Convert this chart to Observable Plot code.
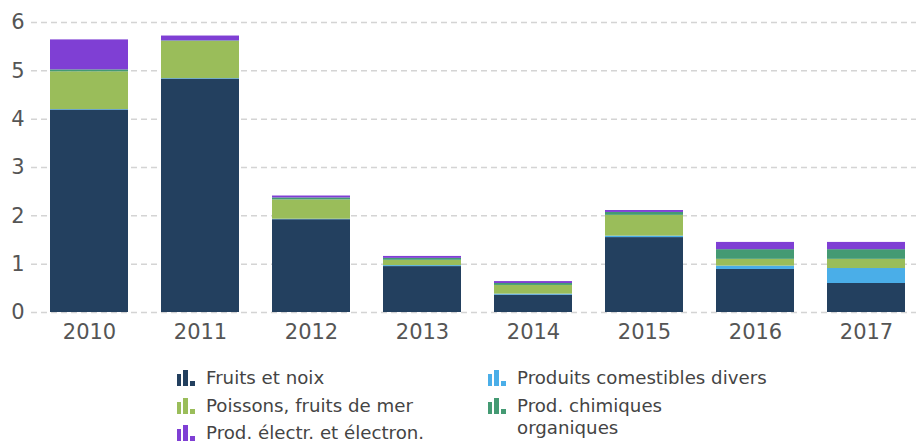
<!DOCTYPE html>
<html>
<head>
<meta charset="utf-8">
<script src="https://cdn.jsdelivr.net/npm/d3@7"></script>
<script src="https://cdn.jsdelivr.net/npm/@observablehq/plot@0.6"></script>
<style>
  body { margin: 0; background: #fff; font-family: "DejaVu Sans", Verdana, sans-serif; }
  #chart { width: 916px; }
  #legend { position: relative; width: 916px; height: 94px; font-size: 18.2px; color: #444; }
  .item { position: absolute; display: flex; align-items: flex-start; line-height: 22px; }
  .item svg { margin-right: 9px; margin-top: 3px; flex: none; }
</style>
</head>
<body>
<div id="chart"></div>
<div id="legend"></div>
<script>
const years = ["2010", "2011", "2012", "2013", "2014", "2015", "2016", "2017"];
const series = ["Fruits et noix", "Produits comestibles divers", "Poissons, fruits de mer", "Prod. chimiques organiques", "Prod. électr. et électron."];
const colors = ["#23405f", "#4aaee8", "#9abd5a", "#449a73", "#7f3fd4"];
const fruits    = [4.19, 4.83, 1.92, 0.95, 0.36, 1.55, 0.89, 0.60];
const divers    = [0.01, 0.01, 0.01, 0.02, 0.02, 0.03, 0.07, 0.31];
const poissons  = [0.78, 0.77, 0.40, 0.11, 0.18, 0.43, 0.14, 0.19];
const chimiques = [0.04, 0.01, 0.04, 0.04, 0.04, 0.06, 0.20, 0.20];
const electr    = [0.62, 0.10, 0.04, 0.04, 0.04, 0.04, 0.15, 0.15];
const yTicks = [0, 1, 2, 3, 4, 5, 6];

const valuesBySeries = [fruits, divers, poissons, chimiques, electr];
const data = [];
series.forEach((s, i) => years.forEach((y, j) => data.push({year: y, series: s, value: valuesBySeries[i][j]})));

const chart = Plot.plot({
  width: 916,
  height: 350,
  marginTop: 22,
  marginBottom: 38,
  marginLeft: 31,
  marginRight: 0,
  style: {fontFamily: "DejaVu Sans, Verdana, sans-serif", fontSize: "21px", color: "#555", background: "#fff"},
  x: {domain: years, paddingInner: 0.3, paddingOuter: 0.1, insetLeft: 7, label: null},
  y: {domain: [0, 6], label: null},
  color: {domain: series, range: colors},
  marks: [
    Plot.gridY(yTicks, {stroke: "#d4d4d4", strokeOpacity: 1, strokeWidth: 1.5, strokeDasharray: "6,4"}),
    Plot.barY(data, {x: "year", y: "value", fill: "series", order: series}),
    Plot.axisY(yTicks, {tickSize: 0, tickPadding: 7, fill: "#555", fontSize: 21, label: null}),
    Plot.axisX({tickSize: 0, tickPadding: 12, fill: "#555", fontSize: 21, label: null})
  ]
});
document.getElementById("chart").appendChild(chart);

const legendPos = [
  {left: 177, top: 17},
  {left: 488, top: 17},
  {left: 177, top: 45},
  {left: 488, top: 45},
  {left: 177, top: 72}
];
const order = [0, 1, 2, 3, 4];
const legend = document.getElementById("legend");
order.forEach((si, k) => {
  const pos = legendPos[k];
  const div = document.createElement("div");
  div.className = "item";
  div.style.left = pos.left + "px";
  div.style.top = pos.top + "px";
  const c = colors[si];
  const label = series[si] === "Prod. chimiques organiques" ? "Prod. chimiques<br>organiques" : series[si];
  div.innerHTML = `<svg width="20" height="16"><rect x="0" y="4" width="4" height="12" fill="${c}"/><rect x="6" y="0" width="5" height="16" fill="${c}"/><rect x="13" y="11" width="5" height="5" fill="${c}"/></svg><span>${label}</span>`;
  legend.appendChild(div);
});
</script>
</body>
</html>
